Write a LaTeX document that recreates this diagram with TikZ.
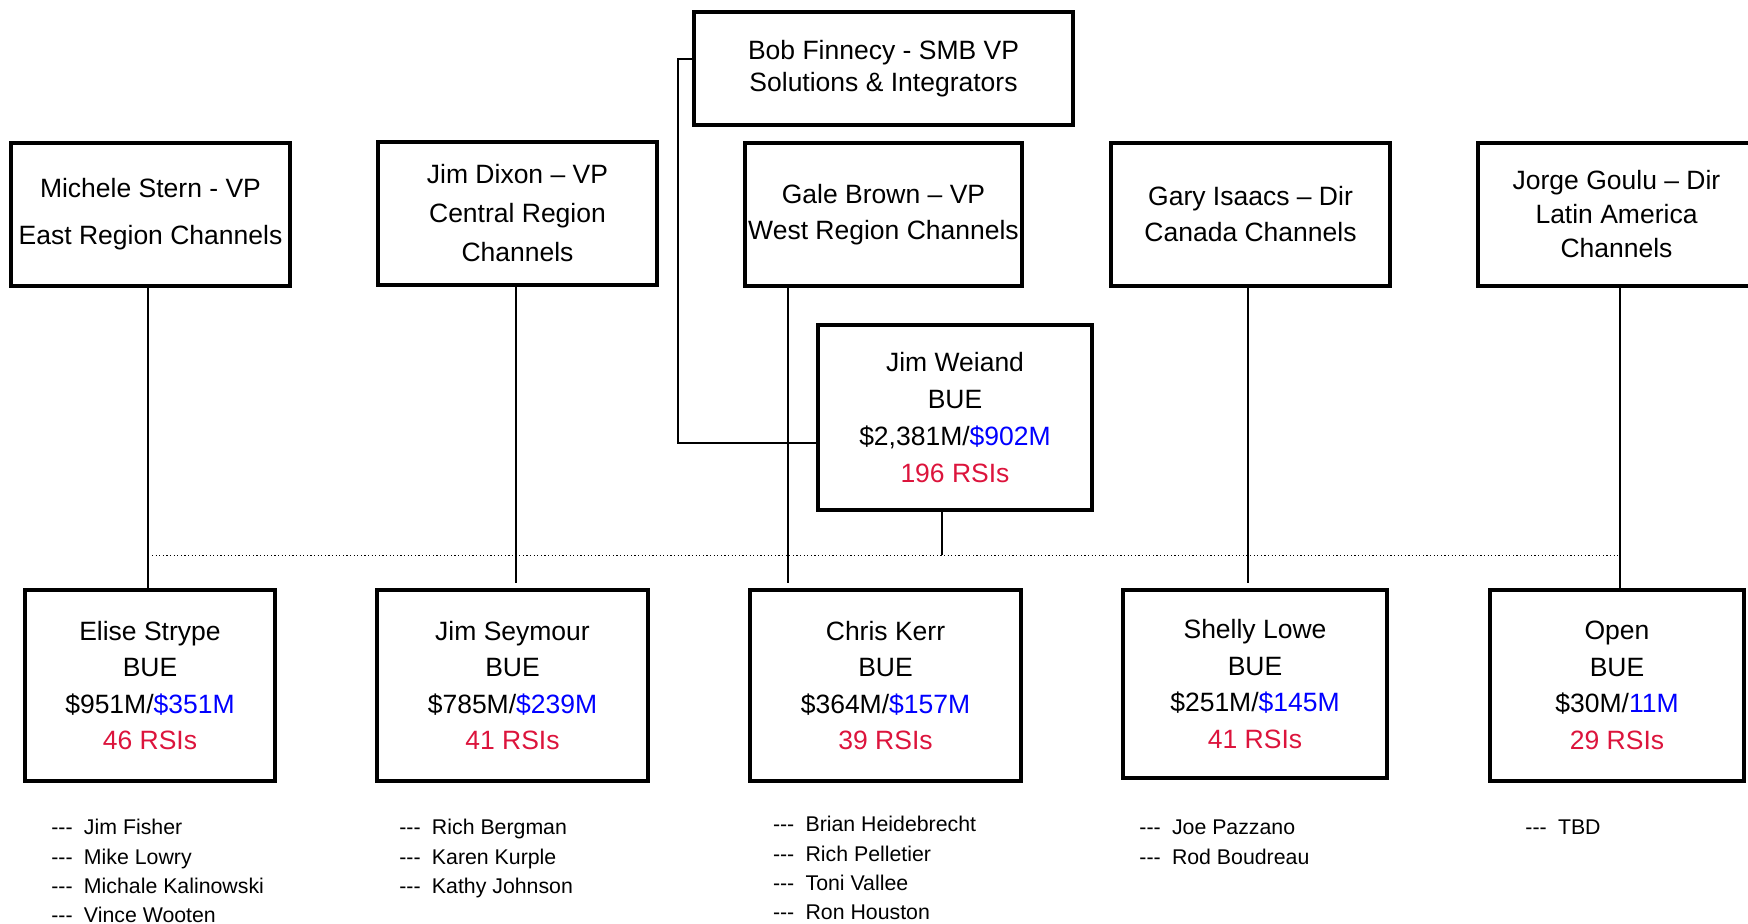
\documentclass[tikz,border=0pt]{standalone}
\usepackage{fontspec}
\setmainfont{Liberation Sans}
\usetikzlibrary{calc}
\definecolor{rsi}{RGB}{220,20,60}
\definecolor{amt}{RGB}{0,0,255}
\newcommand\lstdash{\makebox[16.3pt][l]{-\kern0pt-\kern0pt-}}
\begin{document}
\begin{tikzpicture}[x=0.5pt,y=-0.5pt,
  box/.style={draw=black, line width=2pt, align=center, inner sep=0pt},
  sz/.style 2 args={minimum width=#1*0.5pt-1pt, minimum height=#2*0.5pt-1pt},
  fs/.style={font=\fontsize{13.25}{#1}\selectfont},
  link/.style={line width=0.85pt},
  lst/.style={anchor=base west, inner sep=0pt, font=\fontsize{10.65}{12}\selectfont}]
\useasboundingbox (0,0) rectangle (1748,923);
% top
\node[box, sz={381}{115}, fs=16pt] (bob) at (883.5,68.5) {Bob Finnecy - SMB VP\\Solutions \& Integrators};
\node[box, sz={281}{145}, fs=23.5pt] (east) at (150.5,214.5) {Michele Stern - VP\\East Region Channels};
\node[box, sz={281}{145}, fs=19.4pt] (central) at (517.5,213) {Jim Dixon – VP\\Central Region\\Channels};
\node[box, sz={279}{145}, fs=18pt] (west) at (883.5,214.5) {Gale Brown – VP\\West Region Channels};
\node[box, sz={281}{145}, fs=18pt] (canada) at (1250.5,214.5) {Gary Isaacs – Dir\\Canada Channels};
\node[box, sz={279}{145}, fs=17pt] (latam) at (1616.5,214.5) {Jorge Goulu – Dir\\Latin America\\Channels};
% middle
\node[box, sz={276}{187}, fs=18.4pt] (weiand) at (955,417.5) {Jim Weiand\\BUE\\\$2,381M/\textcolor{amt}{\$902M}\\\textcolor{rsi}{196 RSIs}};
% bottom
\node[box, sz={252}{193}, fs=18.3pt] (elise) at (150,685.5) {Elise Strype\\BUE\\\$951M/\textcolor{amt}{\$351M}\\\textcolor{rsi}{46 RSIs}};
\node[box, sz={273}{193}, fs=18.3pt] (seymour) at (512.5,685.5) {Jim Seymour\\BUE\\\$785M/\textcolor{amt}{\$239M}\\\textcolor{rsi}{41 RSIs}};
\node[box, sz={273}{193}, fs=18.3pt] (kerr) at (885.5,685.5) {Chris Kerr\\BUE\\\$364M/\textcolor{amt}{\$157M}\\\textcolor{rsi}{39 RSIs}};
\node[box, sz={266}{190}, fs=18.3pt] (lowe) at (1255,684) {Shelly Lowe\\BUE\\\$251M/\textcolor{amt}{\$145M}\\\textcolor{rsi}{41 RSIs}};
\node[box, sz={256}{193}, fs=18.3pt] (open) at (1617,685.5) {Open\\BUE\\\$30M/\textcolor{amt}{11M}\\\textcolor{rsi}{29 RSIs}};
% coordinates
\coordinate (xE) at (148,0);
\coordinate (xC) at (516,0);
\coordinate (xW) at (788,0);
\coordinate (xG) at (1248,0);
\coordinate (xJ) at (1620,0);
\coordinate (xB) at (942,0);
\coordinate (dl) at (152,555);
\coordinate (dr) at (1620,555);
% connectors
\draw[link] (east.south -| xE) -- (elise.north -| xE);
\draw[link] (central.south -| xC) -- ($(seymour.north -| xC)+(0,-5)$);
\draw[link] (west.south -| xW) -- ($(kerr.north -| xW)+(0,-5)$);
\draw[link] (canada.south -| xG) -- ($(lowe.north -| xG)+(0,-5)$);
\draw[link] (latam.south -| xJ) -- (open.north -| xJ);
\draw[link] ($(bob.west)+(0,-9.5)$) -- ++(-14,0) |- ($(weiand.west)+(0,25.5)$);
\draw[link] (weiand.south -| xB) -- (dl -| xB);
\draw[line width=0.5pt, dash pattern=on 0.6pt off 1.2pt] (dl) -- (dr);
% lists
\node[lst] (l11) at (51,834) {\lstdash Jim Fisher};
\node[lst] (l12) at (51,864) {\lstdash Mike Lowry};
\node[lst] (l13) at (51,893) {\lstdash Michale Kalinowski};
\node[lst] (l14) at (51,922) {\lstdash Vince Wooten};
\node[lst] (l21) at (399,834) {\lstdash Rich Bergman};
\node[lst] (l22) at (399,864) {\lstdash Karen Kurple};
\node[lst] (l23) at (399,893) {\lstdash Kathy Johnson};
\node[lst] (l31) at (772.6,831) {\lstdash Brian Heidebrecht};
\node[lst] (l32) at (772.6,861) {\lstdash Rich Pelletier};
\node[lst] (l33) at (772.6,890) {\lstdash Toni Vallee};
\node[lst] (l34) at (772.6,919) {\lstdash Ron Houston};
\node[lst] (l41) at (1139,834) {\lstdash Joe Pazzano};
\node[lst] (l42) at (1139,864) {\lstdash Rod Boudreau};
\node[lst] (l51) at (1525,834) {\lstdash TBD};
\end{tikzpicture}
\end{document}
